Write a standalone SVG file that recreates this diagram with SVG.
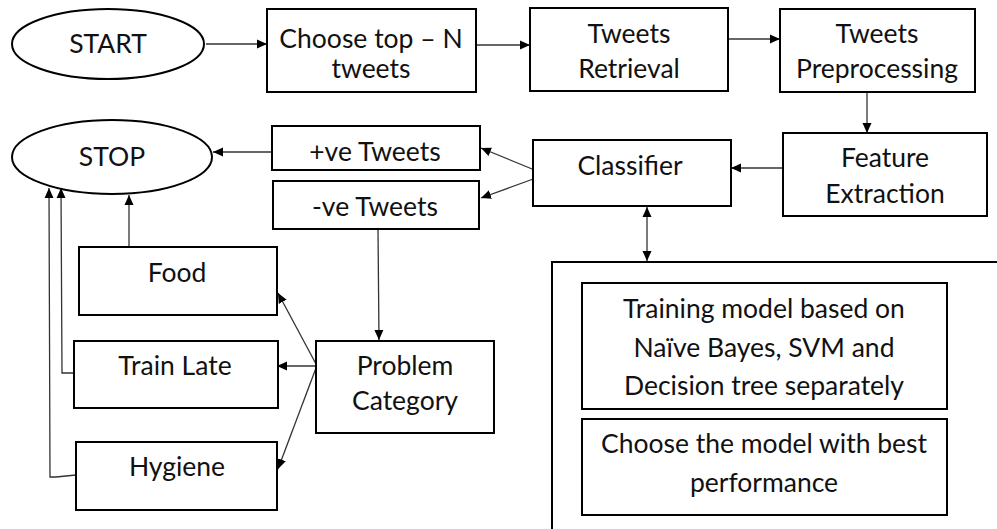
<svg xmlns="http://www.w3.org/2000/svg" width="997" height="529" viewBox="0 0 997 529">
<defs>
<marker id="ah" viewBox="0 0 10 10" refX="10" refY="5" markerWidth="10" markerHeight="10" markerUnits="userSpaceOnUse" orient="auto-start-reverse">
<path d="M0,0.5 L10,5 L0,9.5 z" fill="#000"/>
</marker>
<style>
.box{fill:#fff;stroke:#000;stroke-width:2}
.t{font-family:Lato,"Open Sans",sans-serif;font-size:26.5px;fill:#111;text-anchor:middle}
.c{fill:none;stroke:#333;stroke-width:1.3}
</style>
</defs>
<rect width="997" height="529" fill="#fff"/>
<g id="connectors">
<line class="c" x1="206" y1="44" x2="267" y2="44" marker-end="url(#ah)"/>
<line class="c" x1="476" y1="45" x2="530" y2="45" marker-end="url(#ah)"/>
<line class="c" x1="728" y1="39" x2="780" y2="39" marker-end="url(#ah)"/>
<line class="c" x1="867" y1="92" x2="867" y2="133" marker-end="url(#ah)"/>
<line class="c" x1="783" y1="168" x2="731" y2="168" marker-end="url(#ah)"/>
<line class="c" x1="537" y1="171" x2="481" y2="148" marker-end="url(#ah)"/>
<line class="c" x1="536" y1="178" x2="481" y2="198" marker-end="url(#ah)"/>
<line class="c" x1="647" y1="207" x2="647" y2="261" marker-start="url(#ah)" marker-end="url(#ah)"/>
<line class="c" x1="272" y1="152" x2="213" y2="152" marker-end="url(#ah)"/>
<line class="c" x1="378" y1="229" x2="379" y2="340" marker-end="url(#ah)"/>
<line class="c" x1="129" y1="247" x2="129" y2="195" marker-end="url(#ah)"/>
<polyline class="c" points="74,373 62,373 61,188" marker-end="url(#ah)"/>
<polyline class="c" points="76,475 56,477 50,477 49,188" marker-end="url(#ah)"/>
<line class="c" x1="316" y1="364" x2="278" y2="293" marker-end="url(#ah)"/>
<line class="c" x1="316" y1="366" x2="277" y2="366" marker-end="url(#ah)"/>
<line class="c" x1="316" y1="368" x2="278" y2="469" marker-end="url(#ah)"/>
</g>
<g id="start">
<ellipse class="box" cx="108" cy="44" rx="96" ry="35"/>
<text class="t" x="108" y="53">START</text>
</g>
<g id="choose">
<rect class="box" x="267" y="9" width="209" height="83"/>
<text class="t" x="371" y="48">Choose top – N</text>
<text class="t" x="371" y="78">tweets</text>
</g>
<g id="retrieval">
<rect class="box" x="530" y="8" width="198" height="83"/>
<text class="t" x="629" y="43">Tweets</text>
<text class="t" x="629" y="78">Retrieval</text>
</g>
<g id="preprocessing">
<rect class="box" x="780" y="9" width="195" height="83"/>
<text class="t" x="877" y="43">Tweets</text>
<text class="t" x="877" y="78">Preprocessing</text>
</g>
<g id="feature">
<rect class="box" x="783" y="133" width="204" height="83"/>
<text class="t" x="885" y="167">Feature</text>
<text class="t" x="885" y="203">Extraction</text>
</g>
<g id="classifier">
<rect class="box" x="533" y="140" width="198" height="66"/>
<text class="t" x="630" y="175">Classifier</text>
</g>
<g id="pos">
<rect class="box" x="272" y="126" width="208" height="44"/>
<text class="t" x="375" y="161">+ve Tweets</text>
</g>
<g id="neg">
<rect class="box" x="273" y="181" width="206" height="48"/>
<text class="t" x="375" y="216">-ve Tweets</text>
</g>
<g id="stop">
<ellipse class="box" cx="112" cy="157" rx="100" ry="37"/>
<text class="t" x="112" y="166">STOP</text>
</g>
<g id="food">
<rect class="box" x="79" y="247" width="198" height="68"/>
<text class="t" x="177" y="282">Food</text>
</g>
<g id="trainlate">
<rect class="box" x="74" y="341" width="204" height="67"/>
<text class="t" x="175" y="375">Train Late</text>
</g>
<g id="hygiene">
<rect class="box" x="76" y="442" width="201" height="68"/>
<text class="t" x="177" y="476">Hygiene</text>
</g>
<g id="problem">
<rect class="box" x="316" y="341" width="178" height="92"/>
<text class="t" x="405" y="375">Problem</text>
<text class="t" x="405" y="410">Category</text>
</g>
<g id="model">
<path d="M552,529 L552,262 L997,262" fill="none" stroke="#000" stroke-width="2"/>
</g>
<g id="training">
<rect class="box" x="582" y="283" width="365" height="126"/>
<text class="t" x="764" y="318">Training model based on</text>
<text class="t" x="764" y="357">Naïve Bayes, SVM and</text>
<text class="t" x="764" y="395">Decision tree separately</text>
</g>
<g id="choosebest">
<rect class="box" x="582" y="419" width="365" height="96"/>
<text class="t" x="764" y="453">Choose the model with best</text>
<text class="t" x="764" y="492">performance</text>
</g>
</svg>
